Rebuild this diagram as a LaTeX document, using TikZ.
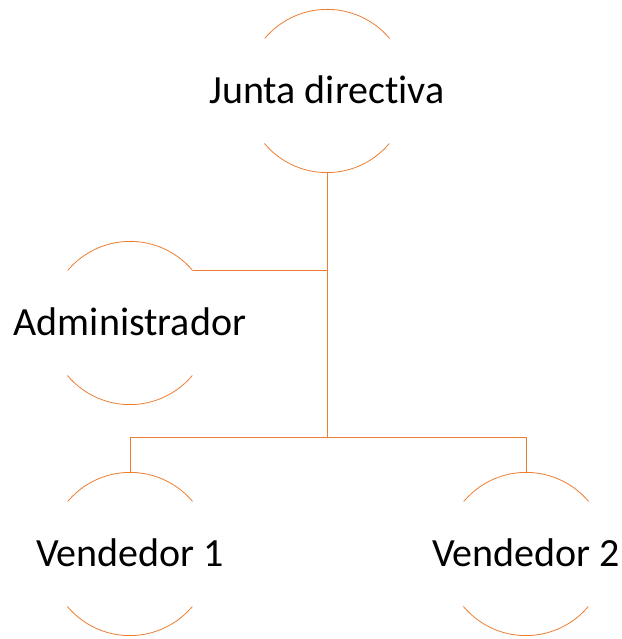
\documentclass[tikz,border=0pt]{standalone}
\usepackage{fontspec}
\setmainfont[Ligatures=NoCommon]{Carlito}
\usepackage{tikz}
\usetikzlibrary{calc}
\definecolor{orgnaranja}{RGB}{237,125,49}

\begin{document}
\begin{tikzpicture}[x=1pt, y=1pt,
    orgline/.style={draw=orgnaranja, line width=0.8pt},
    orgtext/.style={font=\fontsize{40}{48}\selectfont, text height=26pt, text depth=0pt},
    orgnode/.style={circle, inner sep=0pt, minimum size=163pt,
        label={[orgtext]center:#1}}]
    \useasboundingbox (0, 0) rectangle (621, 639);

    % nodos del organigrama
    \node[orgnode=Junta directiva] (jd) at (327, 548) {};
    \node[orgnode=Administrador] (adm) at (130, 316) {};
    \node[orgnode=Vendedor 1] (v1) at (130, 85) {};
    \node[orgnode=Vendedor 2] (v2) at (526, 85) {};

    % arcos superior e inferior de cada círculo
    \foreach \n in {jd, adm, v1, v2}
        \draw[orgline] (\n.40) arc (40:140:81.5) (\n.220) arc (220:320:81.5);

    % conectores
    \coordinate (bar) at ($(v1.north) + (0, 35)$);
    \draw[orgline] (jd.south) -- (jd.south |- bar);
    \draw[orgline] (v1.north) -- (bar) -| (v2.north);
    \draw[orgline] (adm.40) -- (adm.40 -| jd.south);
\end{tikzpicture}
\end{document}
